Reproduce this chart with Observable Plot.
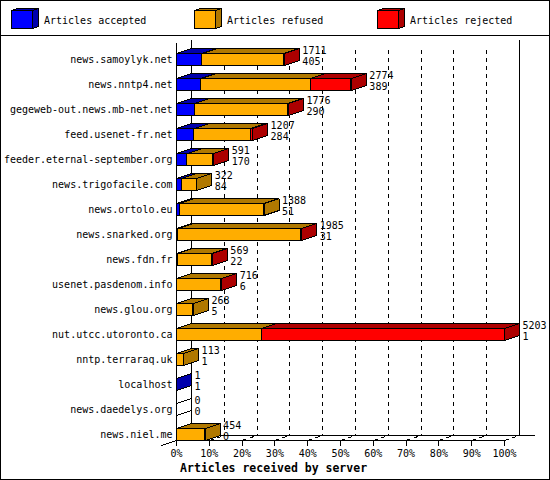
<!DOCTYPE html>
<html>
<head>
<meta charset="utf-8">
<script src="https://cdn.jsdelivr.net/npm/d3@7"></script>
<script src="https://cdn.jsdelivr.net/npm/@observablehq/plot@0.6"></script>
<style>
html,body{margin:0;padding:0;background:#fff}
#frame{position:relative;width:550px;height:480px;box-sizing:border-box;border:1px solid #000;overflow:hidden;background:#fff}
#legend{position:relative;height:34px;border-bottom:1px solid #000}
.item{position:absolute;top:0;height:34px}
.item svg{position:absolute;left:0;top:0;shape-rendering:crispEdges}
.item span{position:absolute;left:33px;top:14px;font:10px/12px "DejaVu Sans Mono",monospace;white-space:nowrap;color:#000}
#chart svg{display:block;shape-rendering:crispEdges}
</style>
</head>
<body>
<div id="frame">
  <div id="legend"></div>
  <div id="chart"></div>
</div>
<script>
const servers = ["news.samoylyk.net","news.nntp4.net","gegeweb-out.news.mb-net.net","feed.usenet-fr.net","feeder.eternal-september.org","news.trigofacile.com","news.ortolo.eu","news.snarked.org","news.fdn.fr","usenet.pasdenom.info","news.glou.org","nut.utcc.utoronto.ca","nntp.terraraq.uk","localhost","news.daedelys.org","news.niel.me"];
const totals   = [1711,2774,1776,1207,591,322,1388,1985,569,716,268,5203,113,1,0,454];
const accepted = [405,389,290,284,170,84,51,31,22,6,5,1,1,1,0,0];
const refused  = [1296,1740,1476,891,416,238,1337,1946,542,705,263,1350,112,0,0,454];
const rejected = [10,645,10,32,5,0,0,8,5,5,0,3852,0,0,0,0];
const tickValues = [0,10,20,30,40,50,60,70,80,90,100];
const seriesNames = ["Articles accepted","Articles refused","Articles rejected"];
const fronts = ["#0000ff","#ffad00","#ff0000"];
const darks  = ["#0000ad","#b07800","#ad0000"];
const maxTotal = 5203;

// 3D depth of the pseudo-perspective, in scale units
const depthX = 15 / 3.28;
const depthY = 0.2;
const halfBar = 0.24;
const floorY = 15.24;

const faces = [], boxes = [];
servers.forEach((server, r) => {
  let start = 0;
  if (totals[r] === 0) {
    const id = "e" + r;
    for (const [x, y] of [[0, r+halfBar],[0, r-halfBar],[depthX, r-halfBar-depthY],[depthX, r+halfBar-depthY]])
      faces.push({id, x, y, fill:"none"});
  }
  [accepted, refused, rejected].forEach((series, s) => {
    const v = series[r];
    if (!v) return;
    const x1 = start / maxTotal * 100, x2 = (start + v) / maxTotal * 100;
    start += v;
    const top = r - halfBar, bot = r + halfBar;
    for (const [x, y] of [[x1,top],[x2,top],[x2+depthX,top-depthY],[x1+depthX,top-depthY]])
      faces.push({id:`t${r}-${s}`, x, y, fill:darks[s]});
    for (const [x, y] of [[x2,top],[x2,bot],[x2+depthX,bot-depthY],[x2+depthX,top-depthY]])
      faces.push({id:`s${r}-${s}`, x, y, fill:darks[s]});
    boxes.push({server, x1, x2, y1:top, y2:bot, fill:fronts[s]});
  });
});

const rows = servers.map((server, r) => ({
  r, pct: totals[r] / maxTotal * 100, total: String(totals[r]), accepted: String(accepted[r])
}));
const floorTicks = tickValues.flatMap(t => [{t, x:t, y:floorY},{t, x:t+depthX, y:floorY-depthY}]);

// legend
const legend = d3.select("#legend");
[10,193,376].forEach((left, i) => {
  const item = legend.append("div").attr("class","item").style("left",left+"px");
  const svg = item.append("svg").attr("width",30).attr("height",34);
  const poly = (pts, fill) => svg.append("polygon").attr("points",pts).attr("fill",fill).attr("stroke","#000");
  poly("0.5,9.5 21.5,9.5 27.5,7.5 6.5,7.5", darks[i]);
  poly("21.5,9.5 27.5,7.5 27.5,25.5 21.5,27.5", darks[i]);
  poly("0.5,9.5 21.5,9.5 21.5,27.5 0.5,27.5", fronts[i]);
  item.append("span").text(seriesNames[i]);
});

const mono = "DejaVu Sans Mono, monospace";
const chart = Plot.plot({
  width: 548,
  height: 443,
  marginLeft: 175,
  marginRight: 44,
  marginTop: 0,
  marginBottom: 38,
  style: {fontFamily: mono, fontSize: "10px", background: "#fff", color: "#000", overflow: "visible"},
  x: {domain: [0, 100], range: [175, 503], label: null},
  y: {domain: [0, 15], range: [23, 398], label: null},
  color: {type: "identity"},
  marks: [
    // back wall and grid
    Plot.ruleX(tickValues.slice(1, 10), {x: d => d + depthX + 0, y1: -0.36, y2: floorY - depthY, stroke: "#000", strokeWidth: 1, strokeDasharray: "4 4"}),
    Plot.ruleX([depthX, 100 + depthX], {y1: -0.76, y2: floorY - depthY, stroke: "#000", strokeWidth: 1}),
    Plot.ruleX([0], {y1: -0.64, y2: floorY, stroke: "#000", strokeWidth: 1}),
    // floor
    Plot.ruleY([floorY - depthY], {x1: depthX, x2: 109.3, stroke: "#000", strokeWidth: 1}),
    Plot.ruleY([floorY], {x1: 0, x2: 100, stroke: "#000", strokeWidth: 1}),
    Plot.line(floorTicks, {x: "x", y: "y", z: "t", stroke: "#000", strokeWidth: 1, strokeDasharray: "4 4"}),
    Plot.line([{x: -depthX, y: floorY + depthY}, {x: 0, y: floorY}], {x: "x", y: "y", stroke: "#000", strokeWidth: 1}),
    // bars: top and side faces, then front faces
    Plot.line(faces, {x: "x", y: "y", z: "id", fill: "fill", stroke: "#000", strokeWidth: 1, curve: "linear-closed", strokeLinejoin: "miter"}),
    Plot.rect(boxes, {x1: "x1", x2: "x2", y1: "y1", y2: "y2", fill: "fill", stroke: "#000", strokeWidth: 1}),
    // value labels
    Plot.text(rows, {x: "pct", y: "r", text: "total", dx: 18, dy: -9, textAnchor: "start", fontSize: 10, fill: "#000"}),
    Plot.text(rows, {x: "pct", y: "r", text: "accepted", dx: 18, dy: 2, textAnchor: "start", fontSize: 10, fill: "#000"}),
    // axes
    Plot.axisY({ticks: d3.range(servers.length), tickFormat: i => servers[i], tickSize: 0, tickPadding: 4, anchor: "left", fontSize: 10, label: null}),
    Plot.axisX({ticks: tickValues, tickFormat: d => d + "%", tickSize: 5, tickPadding: 3, anchor: "bottom", fontSize: 10, label: null}),
    Plot.text(["Articles received by server"], {frameAnchor: "bottom", dy: 30, x: 29.6, text: d => d, fontWeight: "bold", fontSize: 11.5, fill: "#000"})
  ]
});
document.getElementById("chart").appendChild(chart);
</script>
</body>
</html>
